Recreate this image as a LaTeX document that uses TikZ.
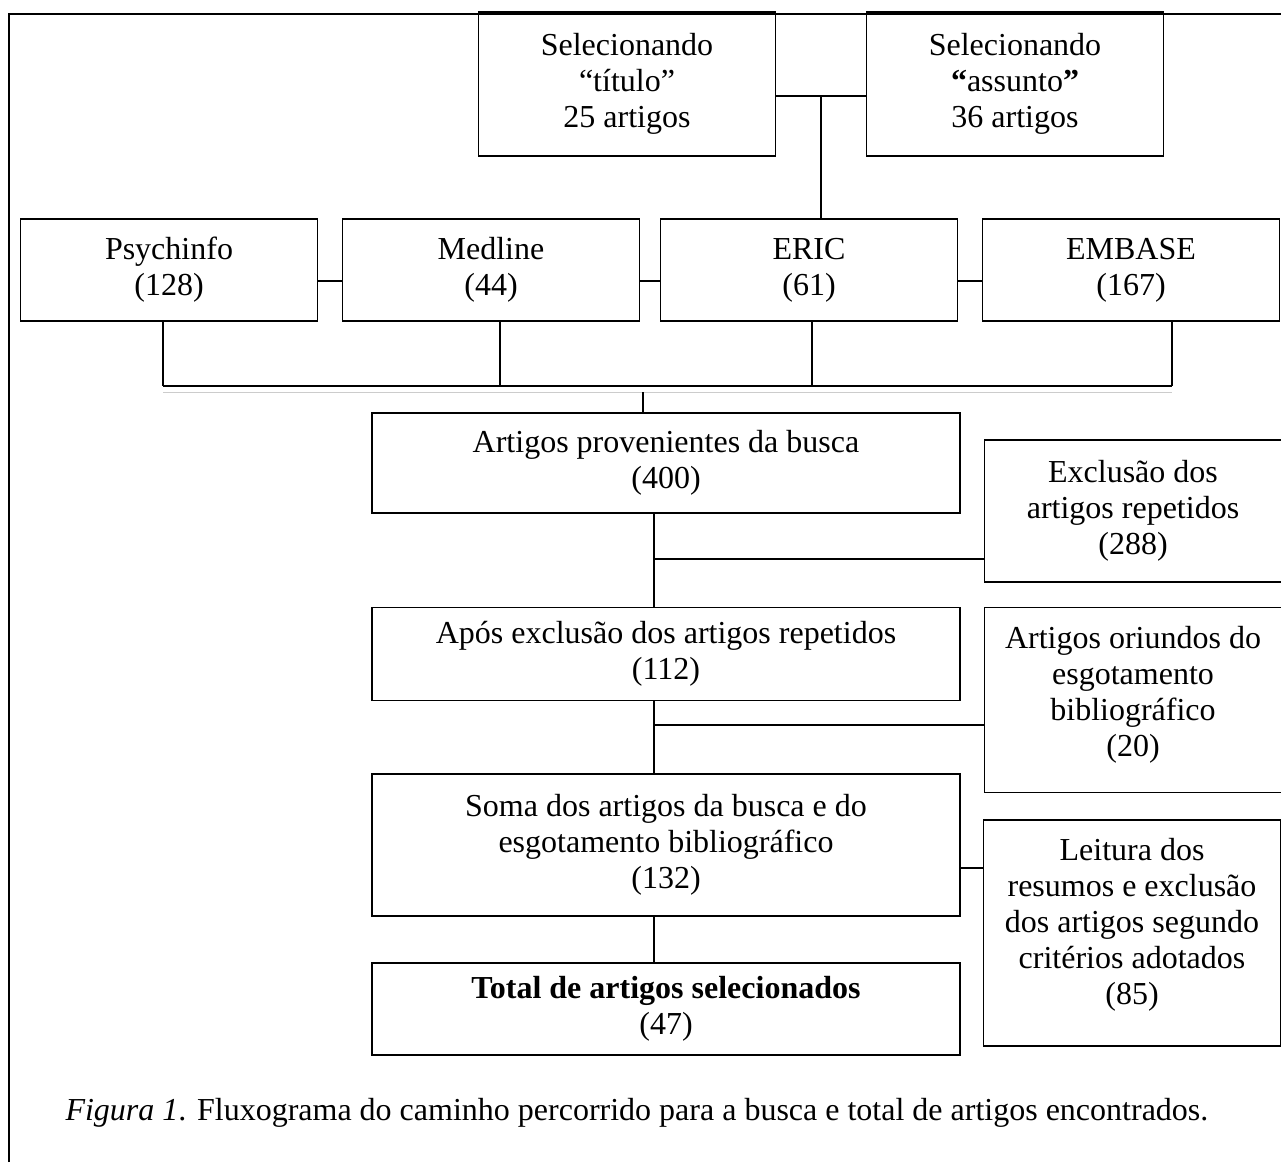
\documentclass[tikz,border=0pt]{standalone}
\usepackage{fontspec}
\setmainfont{Liberation Serif}
\usepackage{tikz}
\usetikzlibrary{positioning,calc}

\begin{document}
\begin{tikzpicture}[
  x=1pt, y=-1pt,
  box/.style={draw, line width=1.4pt, align=center, inner sep=0pt, font=\fontsize{32}{36}\selectfont},
  wide/.style={box, minimum width=588pt},
  side/.style={box, minimum width=297pt},
  link/.style={line width=1.2pt},
  frame/.style={line width=2.6pt}
]
\useasboundingbox (0,0) rectangle (1281,1162);
\draw[frame] (9,1162) -- (9,14) -- (1281,14);

\node[side, minimum height=144pt] (tit) at (627,84)  {Selecionando\\“título”\\25 artigos};
\node[side, minimum height=144pt] (ass) at (1015,84) {Selecionando\\\textbf{“}assunto\textbf{”}\\36 artigos};

\node[side, minimum height=102pt] (psy)  at (169,270)  {Psychinfo\\(128)};
\node[side, minimum height=102pt] (med)  at (491,270)  {Medline\\(44)};
\node[side, minimum height=102pt] (eric) at (809,270)  {ERIC\\(61)};
\node[side, minimum height=102pt] (emb)  at (1131,270) {EMBASE\\(167)};

\node[wide, minimum height=100pt] (prov) at (666,463)  {Artigos provenientes da busca\\(400)};
\node[side, minimum height=142pt] (excl) at (1133,511) {Exclusão dos\\artigos repetidos\\(288)};
\node[wide, minimum height=93pt]  (apos) at (666,654)  {Após exclusão dos artigos repetidos\\(112)};
\node[side, minimum height=185pt] (ori)  at (1133,700) {Artigos oriundos do\\esgotamento\\bibliográfico\\(20)\\[-18pt]};
\node[wide, minimum height=142pt] (soma) at (666,845)  {Soma dos artigos da busca e do\\esgotamento bibliográfico\\(132)};
\node[side, minimum height=226pt] (leit) at (1132,933) {Leitura dos\\resumos e exclusão\\dos artigos segundo\\critérios adotados\\(85)\\[-12pt]};
\node[wide, minimum height=92pt]  (tot)  at (666,1009) {\textbf{Total de artigos selecionados}\\(47)};

\node[anchor=base west, font=\fontsize{32}{36}\selectfont] (cap) at (62,1120)
  {\textit{Figura 1}. Fluxograma do caminho percorrido para a busca e total de artigos encontrados.};

\coordinate (jt) at ($(tit.east)!.5!(ass.west) + (0,12)$);
\draw[link] ([yshift=-12pt]tit.east) -- ([yshift=-12pt]ass.west);
\draw[link] (jt) -- (jt |- eric.north);

\draw[link] ([yshift=-11pt]psy.east)  -- ([yshift=-11pt]med.west);
\draw[link] ([yshift=-11pt]med.east)  -- ([yshift=-11pt]eric.west);
\draw[link] ([yshift=-11pt]eric.east) -- ([yshift=-11pt]emb.west);

\coordinate (bus) at (643,386);
\foreach \n/\dx in {psy/-6,med/9,eric/3,emb/41}
  \draw[link] ([xshift=\dx pt]\n.south) -- ([xshift=\dx pt]\n.south |- bus);
\draw[link] ([xshift=-6pt]psy.south |- bus) -- ([xshift=41pt]emb.south |- bus);
\draw[line width=1pt, gray!40] ([xshift=-6pt,yshift=-6pt]psy.south |- bus) -- ([xshift=41pt,yshift=-6pt]emb.south |- bus);
\draw[link] ([yshift=-6pt]bus) -- (prov.north -| bus);

\coordinate (trunk) at (654,0);
\draw[link] (prov.south -| trunk) -- (apos.north -| trunk);
\draw[link] (apos.south -| trunk) -- (soma.north -| trunk);
\draw[link] (soma.south -| trunk) -- (tot.north -| trunk);

\coordinate (j1) at ([yshift=-48pt]excl.west);
\draw[link] (j1 -| trunk) -- (j1);
\coordinate (j2) at ([yshift=-25pt]ori.west);
\draw[link] (j2 -| trunk) -- (j2);
\coordinate (j3) at ([yshift=-23pt]soma.east);
\draw[link] (j3) -- (j3 -| leit.west);

\end{tikzpicture}
\end{document}
